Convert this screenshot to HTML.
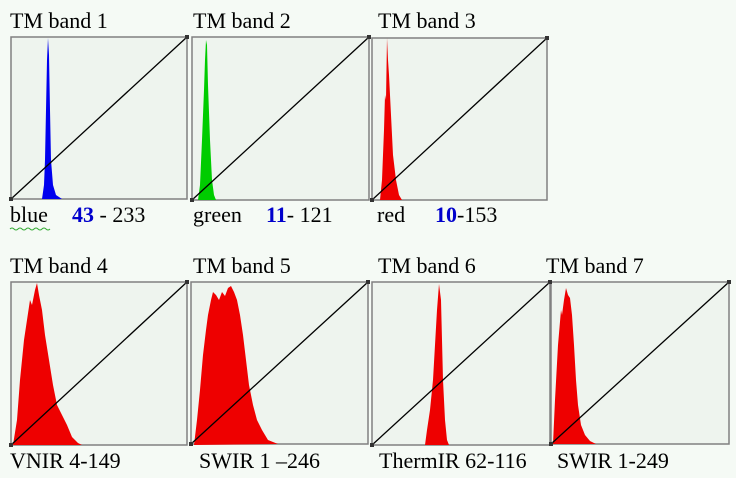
<!DOCTYPE html>
<html><head><meta charset="utf-8"><style>
html,body{margin:0;padding:0;background:#f5faf5;}
svg{display:block;}
svg text{font-family:"Liberation Serif","DejaVu Serif","Times New Roman",serif;font-size:22px;fill:#000;}
</style></head><body>
<svg width="736" height="478" viewBox="0 0 736 478" xmlns="http://www.w3.org/2000/svg" font-family="Liberation Serif, DejaVu Serif, serif">
<rect width="736" height="478" fill="#f5faf5"/>
<g fill="#eef4ee" stroke="#808080" stroke-width="1.5">
<rect x="11" y="37" width="176" height="162"/>
<rect x="192" y="37" width="177" height="163"/>
<rect x="372" y="38" width="175" height="162"/>
<rect x="11" y="282" width="176" height="163"/>
<rect x="191" y="282" width="177" height="162"/>
<rect x="372" y="282" width="178" height="163"/>
<rect x="551" y="282" width="178" height="162"/>
</g>
<path d="M42,199 L44,185 L45,160 L46,110 L47,60 L48,38 L49,55 L50,110 L51,160 L53,185 L56,195 L62,199Z" fill="#0000ee"/>
<path d="M198,200 L200,185 L202,140 L204,90 L205,60 L206,40 L207,45 L208,85 L210,140 L212,180 L214,195 L216,200Z" fill="#00cc00"/>
<path d="M380,200 L382,180 L384,130 L385,95 L386,100 L387,38 L388,60 L389,75 L391,115 L393,155 L396,180 L399,195 L402,200Z" fill="#ee0000"/>
<path d="M13,445 L17,420 L20,380 L24,340 L27,320 L30,300 L32,305 L35,290 L37,283 L39,295 L42,310 L45,335 L49,360 L53,385 L57,405 L62,415 L67,425 L72,437 L78,443 L82,445Z" fill="#ee0000"/>
<path d="M194,445 L197,420 L200,390 L203,355 L206,330 L208,315 L211,300 L213,292 L216,295 L219,300 L222,292 L225,296 L228,288 L231,286 L234,292 L237,300 L240,315 L243,335 L246,360 L249,385 L253,405 L257,420 L262,430 L268,440 L278,444Z" fill="#ee0000"/>
<path d="M425,445 L427,430 L430,410 L433,380 L435,345 L437,310 L439,284 L441,300 L442,340 L443,380 L445,420 L447,440 L449,445Z" fill="#ee0000"/>
<path d="M553,444 L555,400 L558,345 L561,310 L562,315 L564,300 L566,288 L568,295 L570,298 L572,315 L574,345 L576,380 L578,405 L581,425 L585,435 L590,441 L596,444Z" fill="#ee0000"/>
<g stroke="#000" stroke-width="1.3">
<line x1="11" y1="199" x2="187" y2="37"/>
<line x1="192" y1="200" x2="369" y2="37"/>
<line x1="372" y1="200" x2="547" y2="38"/>
<line x1="11" y1="445" x2="187" y2="282"/>
<line x1="191" y1="444" x2="368" y2="282"/>
<line x1="372" y1="445" x2="550" y2="282"/>
<line x1="551" y1="444" x2="729" y2="282"/>
</g>
<g fill="#333">
<rect x="9" y="197" width="4" height="4"/><rect x="185" y="35" width="4" height="4"/>
<rect x="190" y="198" width="4" height="4"/><rect x="367" y="35" width="4" height="4"/>
<rect x="370" y="198" width="4" height="4"/><rect x="545" y="36" width="4" height="4"/>
<rect x="9" y="443" width="4" height="4"/><rect x="185" y="280" width="4" height="4"/>
<rect x="189" y="442" width="4" height="4"/><rect x="366" y="280" width="4" height="4"/>
<rect x="370" y="443" width="4" height="4"/><rect x="548" y="280" width="4" height="4"/>
<rect x="549" y="442" width="4" height="4"/><rect x="727" y="280" width="4" height="4"/>
</g>
<text x="10" y="28">TM band 1</text>
<text x="193" y="28">TM band 2</text>
<text x="378" y="28">TM band 3</text>
<text x="10" y="222">blue</text>
<path d="M10,229 q2,-2 4,0 t4,0 t4,0 t4,0 t4,0 t4,0 t4,0 t4,0 t4,0 t4,0" stroke="#3a3" fill="none" stroke-width="1"/>
<text x="72" y="222"><tspan fill="#0000cc" font-weight="bold">43</tspan> - 233</text>
<text x="193" y="222">green</text>
<text x="266" y="222"><tspan fill="#0000cc" font-weight="bold">11</tspan>- 121</text>
<text x="377" y="222">red</text>
<text x="435" y="222"><tspan fill="#0000cc" font-weight="bold">10</tspan>-153</text>
<text x="10" y="273">TM band 4</text>
<text x="193" y="273">TM band 5</text>
<text x="378" y="273">TM band 6</text>
<text x="546" y="273">TM band 7</text>
<text x="10" y="468">VNIR 4-149</text>
<text x="199" y="468">SWIR 1 –246</text>
<text x="379" y="468">ThermIR 62-116</text>
<text x="557" y="468">SWIR 1-249</text>
</svg>
</body></html>
